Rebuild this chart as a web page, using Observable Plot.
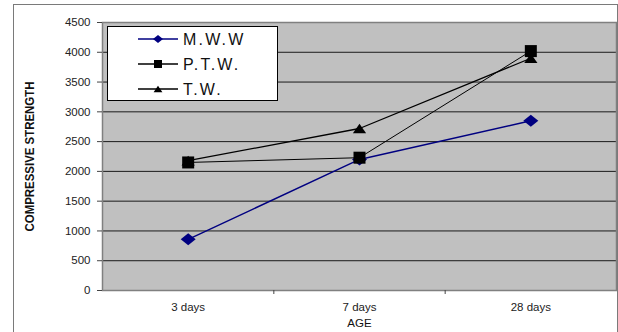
<!DOCTYPE html>
<html><head><meta charset="utf-8">
<script src="https://cdn.jsdelivr.net/npm/d3@7"></script>
<script src="https://cdn.jsdelivr.net/npm/@observablehq/plot@0.6"></script>
<style>
body{margin:0;background:#fff;font-family:"Liberation Sans",Arial,sans-serif;}
#wrap{position:relative;width:618px;height:332px;overflow:hidden;}
#border{position:absolute;left:13px;top:4px;width:603px;height:400px;border:1.5px solid #7a7a7a;pointer-events:none}
#legend{position:absolute;left:107px;top:26px}
</style></head>
<body><div id="wrap"><div id="border"></div></div>
<script>
const ages = ["3 days", "7 days", "28 days"];
const seriesNames = ["M.W.W", "P.T.W.", "T.W."];
const mww = [860, 2200, 2850];
const ptw = [2150, 2230, 4020];
const tw = [2180, 2720, 3900];
const yTicks = [0, 500, 1000, 1500, 2000, 2500, 3000, 3500, 4000, 4500];
const xTitle = "AGE";
const yTitle = "COMPRESSIVE STRENGTH";

const seriesValues = [mww, ptw, tw];
const seriesColors = ["#000080", "#000000", "#000000"];
const seriesWidths = [1.4, 1, 1.3];

// custom symbols (size = pi r^2)
const diamondSym = {draw(ctx, size) { const r = Math.sqrt(size / Math.PI); const w = r * 1.25, h = r; ctx.moveTo(0, -h); ctx.lineTo(w, 0); ctx.lineTo(0, h); ctx.lineTo(-w, 0); ctx.closePath(); }};
const squareSym = {draw(ctx, size) { const r = Math.sqrt(size / Math.PI); ctx.rect(-r, -r, 2 * r, 2 * r); }};
const triangleSym = {draw(ctx, size) { const r = Math.sqrt(size / Math.PI); const w = r * 1.1, h = r * 0.8; ctx.moveTo(0, -h); ctx.lineTo(w, h); ctx.lineTo(-w, h); ctx.closePath(); }};
const seriesSymbols = [diamondSym, squareSym, triangleSym];
const seriesR = [6, 6, 6];

const rows = seriesNames.map((s, k) => seriesValues[k].map((v, i) => ({series: s, k, pos: i + 0.5, value: v})));

const marks = [
  Plot.frame({fill: "#c0c0c0"}),
  Plot.ruleY(yTicks.slice(1), {stroke: "#1a1a1a", strokeWidth: 1}),
  Plot.frame({stroke: "#808080", strokeWidth: 1.5}),
  Plot.axisY(yTicks, {tickSize: 5, tickPadding: 7, fontSize: 11.5, fill: "#222", stroke: "#444", label: null, tickFormat: d => String(d)}),
  Plot.axisX([1, 2], {tickSize: 4, tickFormat: () => "", stroke: "#444", label: null}),
  Plot.axisX([0.5, 1.5, 2.5], {tickSize: 0, tickPadding: 12, fontSize: 11.5, fill: "#222", label: null, tickFormat: d => ages[Math.floor(d)]}),
  Plot.text([xTitle], {frameAnchor: "bottom", dy: 33, fontSize: 11.5, fill: "#111", lineAnchor: "middle"}),
  Plot.text([yTitle], {frameAnchor: "left", textAnchor: "middle", dx: -73, rotate: -90, fontSize: 13, fontWeight: "bold", fill: "#111"})
];
seriesNames.forEach((s, k) => {
  marks.push(Plot.line(rows[k], {x: "pos", y: "value", stroke: seriesColors[k], strokeWidth: seriesWidths[k]}));
});
seriesNames.forEach((s, k) => {
  marks.push(Plot.dot(rows[k], {x: "pos", y: "value", symbol: () => seriesSymbols[k], r: seriesR[k], fill: seriesColors[k], stroke: "none"}));
});

const chart = Plot.plot({
  width: 618, height: 332,
  marginLeft: 102, marginRight: 2, marginTop: 22, marginBottom: 42,
  style: {fontFamily: "'Liberation Sans', Arial, sans-serif", background: "transparent"},
  x: {type: "linear", domain: [0, 3], axis: null},
  y: {domain: [0, 4500], axis: null, nice: false},
  symbol: {type: "identity"},
  marks
});
d3.select(chart).selectAll("text").filter(function() { return this.textContent === yTitle; })
  .attr("textLength", 150).attr("lengthAdjust", "spacingAndGlyphs");
document.getElementById("wrap").prepend(chart);

// legend
const lg = d3.select("#wrap").append("svg").attr("id", "legend").attr("width", 172).attr("height", 76);
lg.append("rect").attr("x", 0.5).attr("y", 0.5).attr("width", 170).attr("height", 74).attr("fill", "#fff").attr("stroke", "#000");
seriesNames.forEach((s, k) => {
  const cy = 13 + k * 25;
  const g = lg.append("g").attr("transform", `translate(0,${cy})`);
  g.append("line").attr("x1", 31).attr("x2", 71).attr("stroke", seriesColors[k]).attr("stroke-width", 1.5);
  g.append("path").attr("transform", "translate(51,0)").attr("d", d3.symbol(seriesSymbols[k], Math.PI * 16)()).attr("fill", seriesColors[k]);
  g.append("text").attr("x", 76).attr("dy", "0.36em").attr("font-size", 16).attr("letter-spacing", 2.2).attr("fill", "#111")
    .attr("font-family", "'Liberation Sans', Arial, sans-serif").text(s);
});
</script>
</body></html>
